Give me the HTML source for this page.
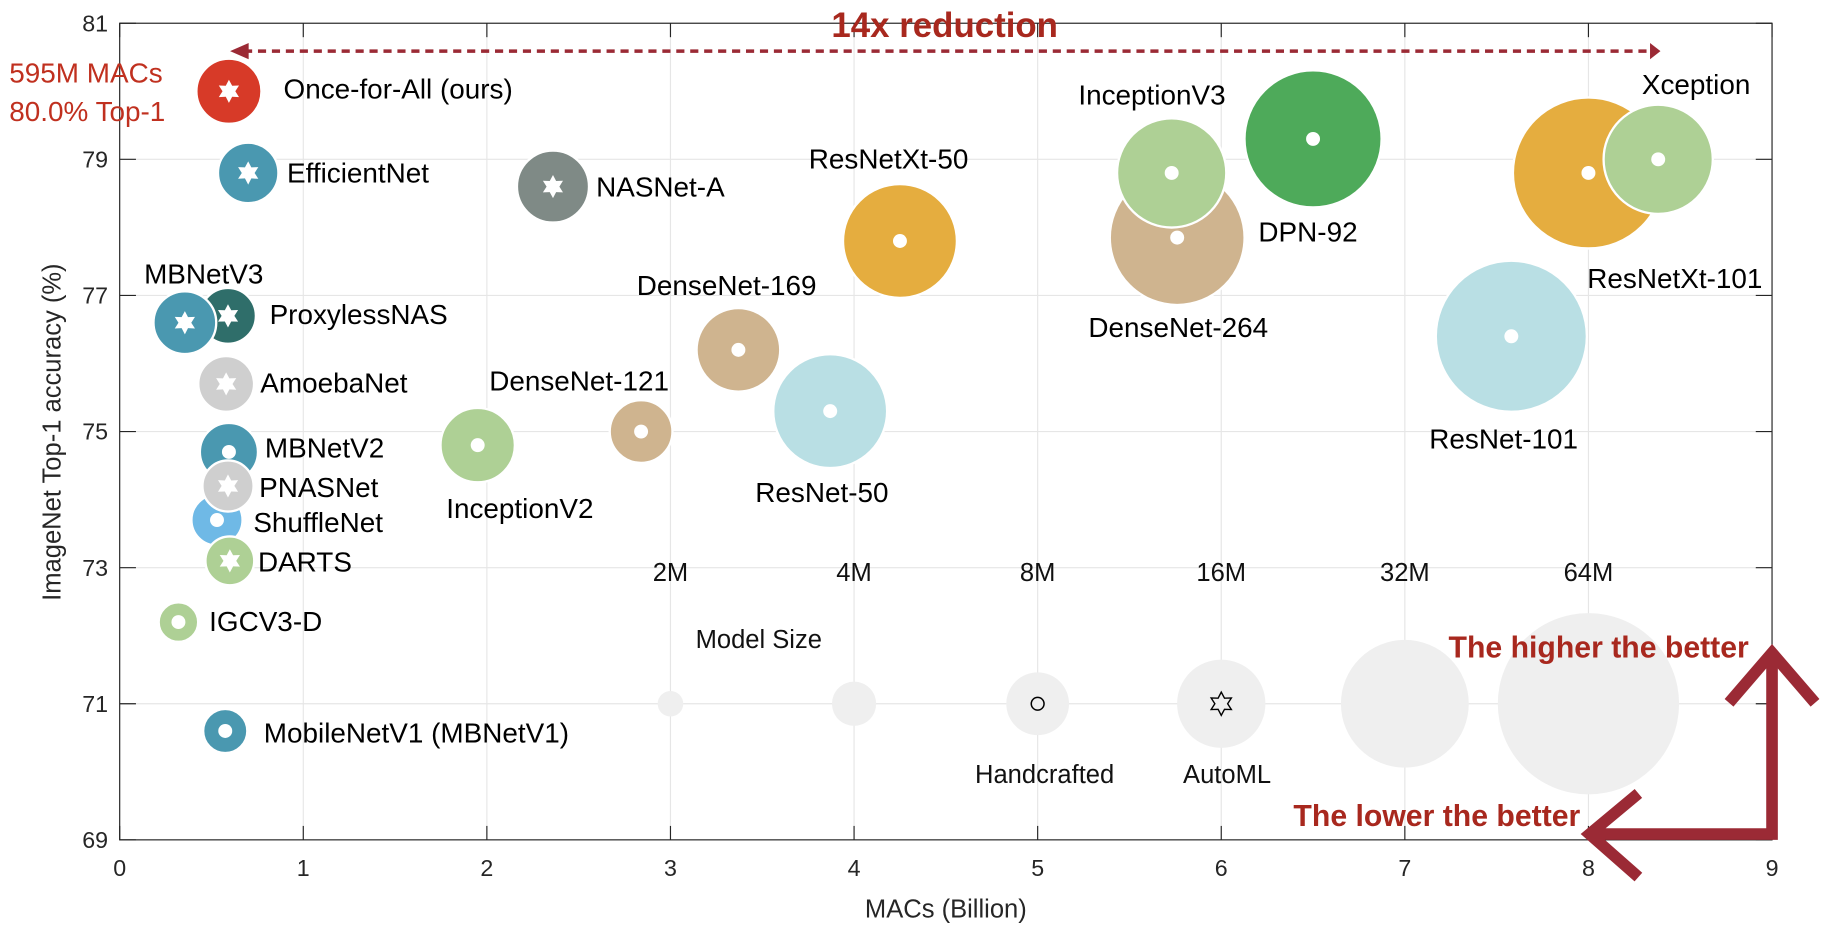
<!DOCTYPE html>
<html><head><meta charset="utf-8"><style>
html,body{margin:0;padding:0;background:#fff;}
svg{display:block;font-family:"Liberation Sans",sans-serif;}
</style></head><body>
<svg id="chart" width="1822" height="934" viewBox="0 0 1568 804" preserveAspectRatio="none" xmlns="http://www.w3.org/2000/svg">
<g id="grid"></g>
<g id="bubbles"></g>
<g id="axes"></g>
</svg>
<script>
const names=["DenseNet-264","ResNetXt-101","Xception","DPN-92","InceptionV3","ResNetXt-50","ResNet-101","ResNet-50","DenseNet-169","DenseNet-121","InceptionV2","NASNet-A","ProxylessNAS","MBNetV3","AmoebaNet","MBNetV2","ShuffleNet","PNASNet","DARTS","IGCV3-D","MobileNetV1 (MBNetV1)","EfficientNet","Once-for-All (ours)"];
const macs=[5.76,8.0,8.38,6.5,5.73,4.25,7.58,3.87,3.37,2.84,1.95,2.36,0.59,0.355,0.58,0.595,0.53,0.59,0.6,0.32,0.575,0.7,0.595];
const acc=[77.85,78.8,79.0,79.3,78.8,77.8,76.4,75.3,76.2,75.0,74.8,78.6,76.7,76.6,75.7,74.7,73.7,74.2,73.1,72.2,70.6,78.8,80.0];
const radius=[58,65,47,59,47,49,65,49,36,27,32,31,24,27,24,25,22,22,21,17,19,26,28];
const colors=["#cfb48f","#e5ad3f","#aed095","#4eaa5a","#aed095","#e5ad3f","#b9dfe4","#b9dfe4","#cfb48f","#cfb48f","#aed095","#7f8a86","#2f6e6a","#4a98b0","#cfcfcf","#4a98b0","#6fb9e6","#cfcfcf","#aed095","#aed095","#4a98b0","#4a98b0","#d73a28"];
const automl=[0,0,0,0,0,0,0,0,0,0,0,1,1,1,1,0,0,1,1,0,0,1,1];
const labelPos=[[1014,290,"middle"],[1366,248,"start"],[1413,81,"start"],[1083,208,"start"],[928,90,"start"],[696,145,"start"],[1230,386,"start"],[650,432,"start"],[548,254,"start"],[421,336,"start"],[384,446,"start"],[513,169,"start"],[232,279,"start"],[124,244,"start"],[224,338,"start"],[228,394,"start"],[218,458,"start"],[223,428,"start"],[222,492,"start"],[180,543,"start"],[227,639,"start"],[247,157,"start"],[244,85,"start"]];
const xTicks=[0,1,2,3,4,5,6,7,8,9];
const yTicks=[69,71,73,75,77,79,81];
const legendX=[3,4,5,6,7,8];
const legendR=[11,19,27,38,55,78];
const legendLabels=["2M","4M","8M","16M","32M","64M"];

const NS="http://www.w3.org/2000/svg";
const X=v=>103+v*158, Y=v=>20+(81-v)*58.58;
function mk(parent,tag,attrs,text){const e=document.createElementNS(NS,tag);for(const k in attrs)e.setAttribute(k,attrs[k]);if(text!==undefined)e.textContent=text;parent.appendChild(e);return e;}
function star(cx,cy,R,fill,stroke){const r=R*0.55;let p=[];for(let k=0;k<12;k++){const a=Math.PI/6*k-Math.PI/2;const rr=k%2?r:R;p.push((cx+rr*Math.cos(a)).toFixed(1)+','+(cy+rr*Math.sin(a)).toFixed(1));}
return mk(bub,'polygon',{points:p.join(' '),fill:fill,stroke:stroke||'none','stroke-width':1.2});}
const grid=document.getElementById('grid'),bub=document.getElementById('bubbles'),ax=document.getElementById('axes');
xTicks.forEach(t=>{const l=mk(grid,'line',{x1:X(t),x2:X(t),y1:Y(81),y2:Y(69),stroke:'#e6e6e6','stroke-width':1});


const tx=mk(ax,'text',{x:X(t),y:754,'font-size':20,'text-anchor':'middle',fill:'#262626'},t);


mk(ax,'line',{x1:X(t),x2:X(t),y1:Y(69),y2:Y(69)-12,stroke:'#262626'});
mk(ax,'line',{x1:X(t),x2:X(t),y1:Y(81),y2:Y(81)+12,stroke:'#262626'});});
yTicks.forEach(t=>{const l=mk(grid,'line',{x1:X(0),x2:X(9),y1:Y(t),y2:Y(t),stroke:'#e6e6e6','stroke-width':1});


const tx=mk(ax,'text',{x:93,y:Y(t)+7,'font-size':20,'text-anchor':'end',fill:'#262626'},t);


mk(ax,'line',{x1:X(0),x2:X(0)+14,y1:Y(t),y2:Y(t),stroke:'#262626'});
mk(ax,'line',{x1:X(9),x2:X(9)-14,y1:Y(t),y2:Y(t),stroke:'#262626'});});
legendX.forEach((v,i)=>{const c=mk(bub,'circle',{cx:X(v),cy:Y(71),r:legendR[i],fill:'#efefef'});


const t=mk(bub,'text',{x:X(v),y:500,'font-size':22,'text-anchor':'middle',fill:'#111'},legendLabels[i]);

});
mk(bub,'circle',{cx:X(5),cy:Y(71),r:5.5,fill:'none',stroke:'#000','stroke-width':1.3});
star(X(6),Y(71),10,'none','#000');
[["Model Size",653,558],["Handcrafted",899,674],["AutoML",1056,674]].forEach(a=>{const t=mk(bub,'text',{x:a[1],y:a[2],'font-size':22,'text-anchor':'middle',fill:'#111'},a[0]);

});
names.forEach((n,i)=>{const cx=X(macs[i]),cy=Y(acc[i]);
const c=mk(bub,'circle',{cx:cx,cy:cy,r:radius[i],fill:colors[i],stroke:'#fff','stroke-width':2});


if(automl[i]) star(cx,cy,10,'#fff');
else mk(bub,'circle',{cx:cx,cy:cy,r:6,fill:'#fff'});
const p=labelPos[i];
const t=mk(bub,'text',{x:p[0],y:p[1],'font-size':24,'text-anchor':p[2],fill:'#000'},n);

});
const box=mk(ax,'rect',{x:X(0),y:Y(81),width:X(9)-X(0),height:Y(69)-Y(81),fill:'none',stroke:'#262626','stroke-width':1});


const xl=mk(ax,'text',{x:X(4.5),y:790,'font-size':22,'text-anchor':'middle',fill:'#262626'},'MACs (Billion)');


const yl=mk(ax,'text',{x:0,y:0,'font-size':22,'text-anchor':'middle',fill:'#262626',transform:'translate(52,372) rotate(-90)'},'ImageNet Top-1 accuracy (%)');


const ann=[["595M MACs",8,71,'#c0301f',24,'normal','start'],["80.0% Top-1",8,104,'#c0301f',24,'normal','start'],["14x reduction",813,32,'#a8281e',30,'bold','middle'],["The higher the better",1505,566,'#a8281e',26,'bold','end'],["The lower the better",1360,711,'#a8281e',26,'bold','end']];
ann.forEach(a=>{const t=mk(ax,'text',{x:a[1],y:a[2],fill:a[3],'font-size':a[4],'font-weight':a[5],'text-anchor':a[6]},a[0]);

});
const dl=mk(ax,'line',{x1:210,x2:1420,y1:44,y2:44,stroke:'#9b2a35','stroke-width':3,'stroke-dasharray':'7,5'});


mk(ax,'path',{d:'M198,44 L214,37 L214,51 Z',fill:'#9b2a35'});
mk(ax,'path',{d:'M1429,44 L1420,37 L1420,51 Z',fill:'#9b2a35'});
const big=mk(ax,'path',{d:'M1525,562 L1525,718 L1368,718 M1488,605 L1525,562 L1562,605 M1410,683 L1368,718 L1410,755',fill:'none',stroke:'#9b2a35','stroke-width':10});


</script>
</body></html>
